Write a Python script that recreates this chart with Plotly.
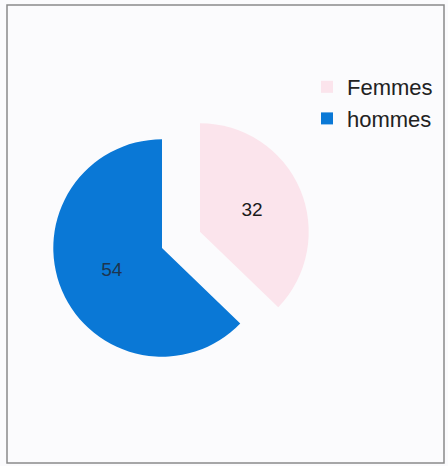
import plotly.graph_objects as go

labels = ["Femmes", "hommes"]
values = [32, 54]
colors = ["#fbe4ec", "#0a78d6"]
text_colors = ["#1a1a1a", "#1d3550"]
pulls = [0.38, 0]

W, H = 448, 466

fig = go.Figure(go.Pie(
    labels=labels,
    values=values,
    marker=dict(colors=colors, line=dict(width=0)),
    pull=pulls,
    sort=False,
    direction="clockwise",
    rotation=0,
    textinfo="value",
    textposition="inside",
    insidetextorientation="horizontal",
    textfont=dict(family="Liberation Sans", size=19, color=text_colors),
    domain=dict(x=[12 / W, 312 / W], y=[68 / H, 368 / H]),
    hoverinfo="label+value",
))

fig.update_layout(
    width=W, height=H,
    margin=dict(l=0, r=0, t=0, b=0),
    paper_bgcolor="#fbfbfd",
    plot_bgcolor="#fbfbfd",
    showlegend=True,
    legend=dict(
        x=307 / W, y=1 - 66 / H, xanchor="left", yanchor="top",
        font=dict(family="Liberation Sans", size=22, color="#222222"),
        bgcolor="rgba(0,0,0,0)",
        itemwidth=30,
    ),
    shapes=[dict(
        type="rect", xref="paper", yref="paper",
        x0=7 / W, x1=444 / W, y0=1 - 463 / H, y1=1 - 5 / H,
        line=dict(color="#8a8a8a", width=1.5),
    )],
)

fig.write_html(
    "out.html",
    config={"displayModeBar": False},
    post_script="document.body.style.margin='0';document.body.style.overflow='hidden';",
)
